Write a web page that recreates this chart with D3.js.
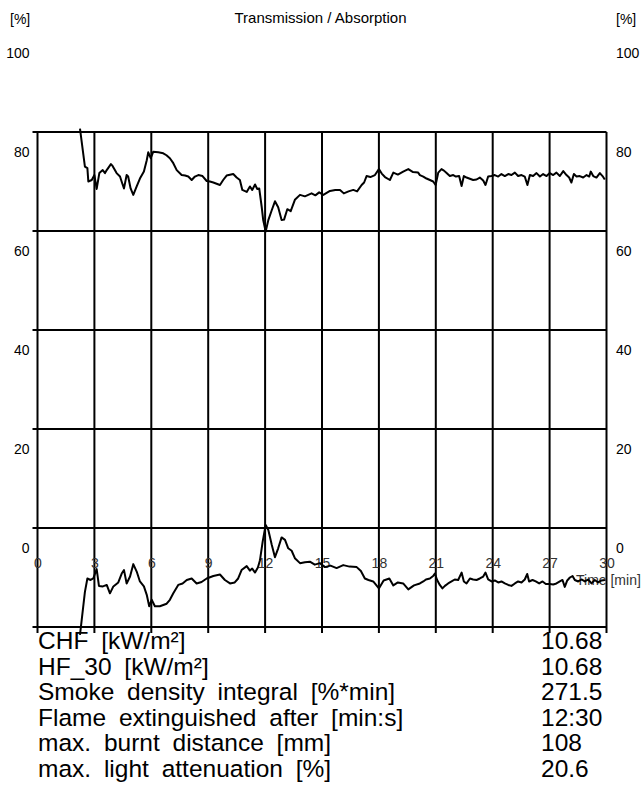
<!DOCTYPE html>
<html>
<head>
<meta charset="utf-8">
<script src="https://cdn.jsdelivr.net/npm/d3@7"></script>
<style>
  html, body { margin: 0; padding: 0; background: #fff; }
  svg { display: block; font-family: Arial, "Liberation Sans", sans-serif; }
</style>
</head>
<body>
<div id="chart"></div>
<script>
// time axis [min]
const timeTicks = [0, 3, 6, 9, 12, 15, 18, 21, 24, 27, 30];
// percent axis
const percentTicks = [0, 20, 40, 60, 80, 100];
const gridValues = [-20, 0, 20, 40, 60, 80];

// transmission curve (upper) - time [min], value [%]
const transTime = [2.24, 2.50, 2.63, 2.68, 2.86, 3.00, 3.12, 3.26, 3.44, 3.56, 3.65, 3.87, 3.95, 4.17, 4.35, 4.47, 4.56, 4.70, 4.78, 4.91, 5.05, 5.23, 5.40, 5.61, 5.76, 5.84, 5.97, 6.10, 6.37, 6.63, 6.80, 6.98, 7.16, 7.34, 7.60, 7.78, 7.95, 8.13, 8.30, 8.48, 8.70, 8.92, 9.09, 9.27, 9.62, 9.79, 9.97, 10.32, 10.50, 10.67, 10.80, 11.03, 11.20, 11.32, 11.47, 11.58, 11.69, 11.82, 11.90, 12.03, 12.17, 12.35, 12.52, 12.69, 12.87, 13.00, 13.17, 13.35, 13.57, 13.84, 14.10, 14.45, 14.65, 14.85, 15.07, 15.42, 15.70, 15.95, 16.15, 16.40, 16.65, 16.85, 17.09, 17.22, 17.35, 17.55, 17.79, 18.00, 18.15, 18.32, 18.58, 18.76, 19.00, 19.28, 19.55, 19.80, 20.07,
  20.16, 20.34, 20.51, 20.69, 20.86, 20.99, 21.13, 21.30, 21.43, 21.57, 21.74, 21.92, 22.06, 22.23, 22.36, 22.48, 22.62, 22.76, 22.97, 23.15, 23.32, 23.50, 23.62, 23.76, 23.94, 24.11, 24.29, 24.46, 24.64, 24.82, 24.99, 25.17, 25.34, 25.52, 25.69, 25.83, 25.96, 26.13, 26.31, 26.49, 26.66, 26.84, 27.01, 27.19, 27.36, 27.54, 27.72, 27.89, 28.03, 28.15, 28.28, 28.42, 28.59, 28.77, 28.95, 29.09, 29.17, 29.30, 29.47, 29.65, 29.79, 29.91];
const transValue = [80.7, 73.0, 72.7, 70.0, 70.3, 71.3, 68.5, 71.7, 72.3, 71.7, 72.3, 73.5, 73.2, 71.7, 71.0, 69.6, 68.6, 71.3, 71.0, 68.6, 67.3, 69.0, 70.6, 72.0, 74.3, 75.9, 74.7, 76.0, 75.9, 75.7, 75.3, 74.7, 73.7, 72.3, 71.3, 71.2, 71.0, 70.3, 71.0, 71.3, 71.1, 70.1, 70.0, 69.8, 69.3, 70.3, 71.2, 71.5, 70.8, 70.3, 68.3, 67.9, 69.0, 68.3, 69.4, 68.5, 68.6, 64.9, 62.2, 59.9, 62.2, 64.2, 66.0, 64.8, 62.2, 62.3, 64.4, 64.0, 66.3, 67.3, 67.0, 67.6, 67.2, 67.8, 67.3, 68.1, 68.3, 68.3, 67.6, 68.0, 68.3, 68.0, 69.3, 69.8, 71.1, 70.9, 71.3, 72.5, 71.6, 70.9, 70.3, 71.8, 71.4, 72.0, 72.5, 71.9, 71.8,
  71.3, 71.0, 70.6, 70.3, 70.0, 69.3, 71.8, 72.5, 72.2, 71.7, 71.1, 71.3, 71.0, 71.1, 69.1, 71.1, 70.8, 70.6, 70.3, 70.4, 70.8, 70.2, 69.3, 71.0, 71.1, 71.3, 71.0, 71.5, 71.1, 71.5, 71.3, 71.8, 71.1, 71.3, 71.0, 69.3, 71.3, 71.1, 71.7, 71.0, 71.5, 71.1, 71.7, 71.3, 71.8, 71.1, 72.1, 71.3, 70.8, 69.8, 71.5, 71.0, 71.1, 70.8, 71.3, 71.0, 72.0, 71.1, 70.8, 71.7, 71.1, 70.4];

// absorption curve (lower) - time [min], value [%]
const absTime = [2.24, 2.50, 2.63, 2.80, 2.94, 3.12, 3.24, 3.45, 3.65, 3.82, 4.00, 4.26, 4.44, 4.56, 4.70, 4.88, 5.05, 5.23, 5.40, 5.61, 5.76, 5.89, 6.02, 6.19, 6.45, 6.81, 6.98, 7.16, 7.42, 7.65, 7.87, 8.13, 8.39, 8.65, 8.92, 9.27, 9.62, 9.88, 10.15, 10.40, 10.58, 10.76, 11.03, 11.20, 11.32, 11.47, 11.62, 11.73, 11.87, 12.03, 12.17, 12.35, 12.52, 12.69, 12.87, 13.05, 13.22, 13.40, 13.57, 13.84, 14.10, 14.36, 14.62, 14.89, 15.15, 15.45, 15.77, 16.12, 16.45, 16.83, 17.05, 17.26, 17.45, 17.70, 18.00, 18.25, 18.55, 18.76, 19.00, 19.28, 19.55, 19.85,
  20.16, 20.34, 20.48, 20.69, 20.86, 20.95, 21.07, 21.21, 21.35, 21.48, 21.65, 21.83, 22.00, 22.18, 22.36, 22.48, 22.62, 22.80, 22.97, 23.15, 23.32, 23.50, 23.62, 23.76, 23.94, 24.11, 24.29, 24.46, 24.64, 24.82, 24.99, 25.17, 25.34, 25.52, 25.69, 25.82, 25.92, 26.10, 26.27, 26.45, 26.63, 26.80, 27.01, 27.19, 27.36, 27.54, 27.68, 27.80, 27.93, 28.07, 28.21, 28.33, 28.51, 28.68, 28.86, 29.03, 29.21, 29.38, 29.56, 29.74, 29.91];
const absValue = [-21.6, -12.9, -10.2, -10.5, -10.2, -8.3, -11.7, -11.8, -11.5, -13.2, -11.8, -11.0, -9.2, -8.5, -11.2, -9.8, -7.3, -8.8, -10.8, -11.8, -13.5, -15.8, -14.5, -15.8, -15.8, -15.3, -14.5, -13.2, -11.5, -11.2, -10.5, -10.2, -11.2, -10.9, -10.2, -9.7, -9.4, -10.5, -11.2, -11.0, -10.2, -8.5, -7.7, -8.6, -8.2, -9.0, -8.0, -6.5, -2.8, 0.6, -0.4, -3.4, -5.9, -4.1, -1.9, -2.4, -4.1, -4.6, -6.1, -7.1, -6.9, -6.8, -7.4, -7.1, -7.9, -7.6, -8.1, -7.5, -7.8, -7.9, -8.7, -10.2, -10.5, -10.8, -12.2, -10.6, -10.2, -11.6, -11.0, -11.2, -12.4, -11.6,
  -11.2, -10.8, -10.4, -10.2, -9.7, -9.2, -10.5, -11.5, -12.2, -11.7, -11.2, -10.8, -10.4, -10.5, -9.0, -10.8, -11.2, -10.2, -10.4, -10.5, -10.2, -9.8, -9.0, -10.4, -10.8, -10.6, -11.0, -10.8, -11.2, -11.5, -11.7, -11.2, -10.8, -11.0, -10.4, -9.3, -10.8, -10.5, -10.8, -11.2, -10.8, -11.3, -11.3, -11.4, -11.2, -10.8, -10.5, -11.9, -10.6, -10.0, -9.7, -10.5, -10.8, -10.4, -10.8, -10.4, -11.2, -10.5, -11.0, -10.6, -10.5];

// summary table below the chart
const statLabels = ['CHF [kW/m²]', 'HF_30 [kW/m²]', 'Smoke density integral [%*min]', 'Flame extinguished after [min:s]', 'max. burnt distance [mm]', 'max. light attenuation [%]'];
const statValues = ['10.68', '10.68', '271.5', '12:30', '108', '20.6'];

const width = 642;
const height = 787;
const margin = { top: 132, right: 35.5, bottom: 160, left: 37.5 };

const svg = d3.select('#chart').append('svg')
  .attr('width', width)
  .attr('height', height);

svg.append('rect')
  .attr('width', width)
  .attr('height', height)
  .attr('fill', '#fff');

// scales
const xScale = d3.scaleLinear()
  .domain([0, 30])
  .range([margin.left, width - margin.right]);

const yScale = d3.scaleLinear()
  .domain([-20, 80])
  .range([height - margin.bottom, margin.top]);

// grid - horizontal lines stick out a bit on the left, vertical ones below
svg.append('g')
  .selectAll('line')
  .data(gridValues)
  .enter()
  .append('line')
  .attr('x1', xScale(0) - 5)
  .attr('x2', xScale(30))
  .attr('y1', d => yScale(d))
  .attr('y2', d => yScale(d))
  .attr('stroke', '#000')
  .attr('stroke-width', 2);

svg.append('g')
  .selectAll('line')
  .data(timeTicks)
  .enter()
  .append('line')
  .attr('x1', d => xScale(d))
  .attr('x2', d => xScale(d))
  .attr('y1', yScale(80))
  .attr('y2', yScale(-20) + 6)
  .attr('stroke', '#000')
  .attr('stroke-width', 2);

// percent labels, left and right, sitting under their grid line
const leftAxis = svg.append('g')
  .attr('transform', `translate(${xScale(0)},0)`)
  .call(d3.axisLeft(yScale).tickValues(percentTicks).tickSize(0).tickPadding(8));

const rightAxis = svg.append('g')
  .attr('transform', `translate(${xScale(30)},0)`)
  .call(d3.axisRight(yScale).tickValues(percentTicks).tickSize(0).tickPadding(9.5));

[leftAxis, rightAxis].forEach(ax => {
  ax.select('.domain').remove();
  ax.selectAll('text')
    .attr('dy', 24)
    .attr('fill', '#000')
    .style('font-size', '14px')
    .style('font-family', 'Arial, "Liberation Sans", sans-serif');
});

// time labels drawn inside the plot
const timeAxis = svg.append('g')
  .attr('transform', 'translate(0,568)')
  .call(d3.axisBottom(xScale).tickValues(timeTicks).tickSize(0).tickPadding(0));

timeAxis.select('.domain').remove();
timeAxis.selectAll('text')
  .attr('y', 0)
  .attr('dy', 0)
  .attr('fill', '#333')
  .style('font-size', '14px')
  .style('font-family', 'Arial, "Liberation Sans", sans-serif');

svg.append('text')
  .attr('x', 576)
  .attr('y', 585)
  .attr('fill', '#333')
  .style('font-size', '14px')
  .text('Time [min]');

// header
svg.append('text')
  .attr('x', 320.5)
  .attr('y', 23)
  .attr('text-anchor', 'middle')
  .style('font-size', '15px')
  .text('Transmission / Absorption');

svg.append('text')
  .attr('x', 10)
  .attr('y', 24)
  .style('font-size', '14px')
  .text('[%]');

svg.append('text')
  .attr('x', 616)
  .attr('y', 24)
  .style('font-size', '14px')
  .text('[%]');

// curves
const line = d3.line()
  .x(d => xScale(d[0]))
  .y(d => yScale(d[1]));

const transData = transTime.map((t, i) => [t, transValue[i]]);
const absData = absTime.map((t, i) => [t, absValue[i]]);

[transData, absData].forEach(series => {
  svg.append('path')
    .datum(series)
    .attr('d', line)
    .attr('fill', 'none')
    .attr('stroke', '#000')
    .attr('stroke-width', 2)
    .attr('stroke-linejoin', 'round');
});

// stats table
const stats = svg.append('g');

stats.selectAll('text.label')
  .data(statLabels)
  .enter()
  .append('text')
  .attr('class', 'label')
  .attr('x', 38)
  .attr('y', (d, i) => 649 + i * 25.6)
  .style('font-size', '24.5px')
  .style('word-spacing', '6px')
  .text(d => d);

stats.selectAll('text.value')
  .data(statValues)
  .enter()
  .append('text')
  .attr('class', 'value')
  .attr('x', 541)
  .attr('y', (d, i) => 649 + i * 25.6)
  .style('font-size', '24.5px')
  .text(d => d);
</script>
</body>
</html>
